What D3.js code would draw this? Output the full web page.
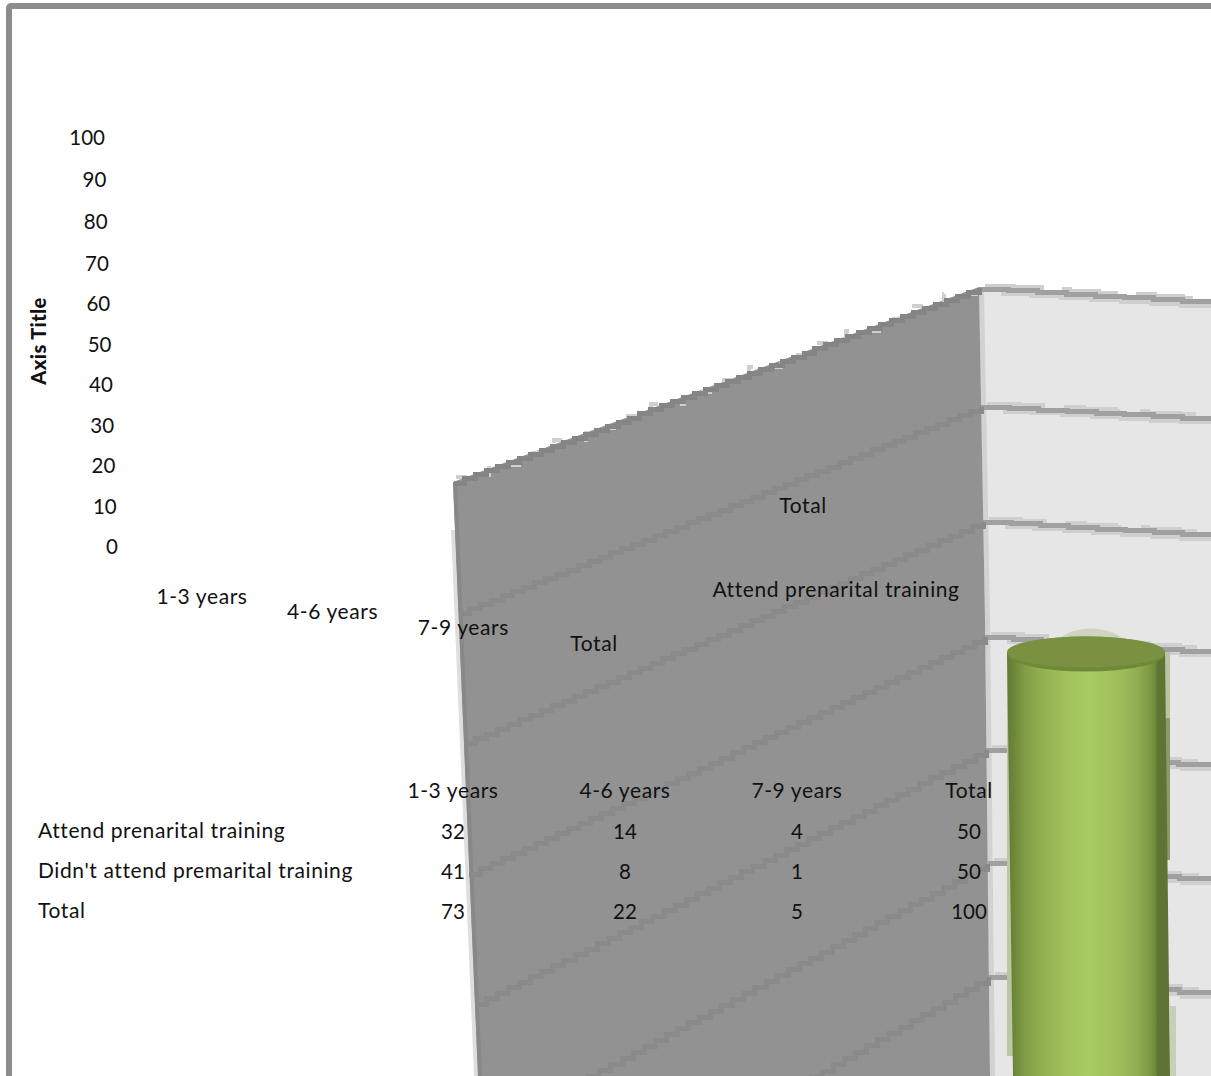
<!DOCTYPE html>
<html><head><meta charset="utf-8">
<style>html,body{margin:0;padding:0;background:#fff;overflow:hidden}svg{display:block}text{font-family:Lato,"Open Sans",sans-serif;fill:#111}</style>
<script src="https://cdn.jsdelivr.net/npm/d3@7"></script></head><body>
<script>
const axisTicks=[100,90,80,70,60,50,40,30,20,10,0];
const gridValues=[100,90,80,70,60,50,40];
const axisTitle="Axis Title";
const frontCats=["1-3 years","4-6 years","7-9 years","Total"];
const backCats=["Total","Attend prenarital training"];
const tableCols=["1-3 years","4-6 years","7-9 years","Total"];
const rowNames=["Attend prenarital training","Didn't attend premarital training","Total"];
const attend=[32,14,4,50];
const didnt=[41,8,1,50];
const totals=[73,22,5,100];
const barValue=73;

const W=1211,H=1076,FS=20.5;
const svg=d3.select("body").append("svg").attr("width",W).attr("height",H);
const defs=svg.append("defs");
const g=defs.append("linearGradient").attr("id","cyl");
[[0,"#64793a"],[.04,"#6c8538"],[.1,"#7f9a45"],[.2,"#8fae4f"],[.35,"#a0c15b"],[.5,"#a8cb62"],[.68,"#9fbf5b"],[.8,"#90ae50"],[.87,"#7f9a45"],[.91,"#6f8a3c"],[.925,"#5f7432"],[1,"#5f7432"]]
 .forEach(s=>g.append("stop").attr("offset",s[0]).attr("stop-color",s[1]));

// value scales of the projected walls
const wallBack=d3.scaleLinear().domain([100,90,70,40]).range([289,407,637,977]);
const wallFront=d3.scaleLinear().domain([100,90,50]).range([482,613,1135]);
const backEnd=d3.scaleLinear().domain([100,70,40]).range([303,653,995]);
const barY=d3.scaleLinear().domain([0,100]).range([1528,328]);
const frontX=d3.scaleLinear().domain([482,1076]).range([453,478]);
const backX=d3.scaleLinear().domain([287,620,1076]).range([979,985,990]);

// stair-stepped line between two projected points
function stair(a,b,step){
 const n=Math.max(1,Math.round(Math.abs(b[0]-a[0])/step));
 const px=d3.scaleLinear().domain([0,n]).range([a[0],b[0]]);
 const py=d3.scaleLinear().domain([0,n]).range([a[1],b[1]]);
 return d3.line().curve(d3.curveStepAfter)(d3.range(n+1).map(i=>[px(i),py(i)]));
}
const crisp=s=>s.attr("fill","none").attr("shape-rendering","crispEdges");

// back wall
svg.append("path").attr("fill","#e6e6e6")
 .attr("d",d3.line()([[backX(287),wallBack(100)],[W,backEnd(100)],[W,H],[backX(1076),H]]));
svg.append("path").attr("fill","none").attr("stroke","#d2d2d2").attr("stroke-width",5)
 .attr("d",d3.line()([[backX(287)+2.5,wallBack(100)],[backX(620)+2.5,620],[backX(1076)+2.5,H]]));
const backGrid=svg.append("g");
gridValues.forEach(v=>{
 const a=[backX(wallBack(v)),wallBack(v)],b=[W,backEnd(v)];
 crisp(backGrid.append("path")).attr("stroke","#cfcfcf").attr("stroke-width",5)
  .attr("stroke-dasharray","60 20").attr("d",stair([a[0]+6,a[1]-3],[b[0],b[1]-3],30));
 crisp(backGrid.append("path")).attr("stroke","#cfcfcf").attr("stroke-width",5)
  .attr("d",stair([a[0]+22,a[1]+4],[b[0],b[1]+4],30));
 crisp(backGrid.append("path")).attr("stroke","#a0a0a0").attr("stroke-width",5)
  .attr("d",stair(a,b,30));
});

// side wall
svg.append("path").attr("fill","none").attr("stroke","#dedede").attr("stroke-width",4)
 .attr("d",d3.line()([[frontX(530)-2,530],[frontX(1076)-2,H]]));
svg.append("path").attr("fill","#929292")
 .attr("d",d3.line()([[frontX(482),wallFront(100)],[backX(287),287],[backX(620),620],[backX(1076),H],[frontX(1076),H]]));
svg.append("path").attr("fill","none").attr("stroke","#888").attr("stroke-width",4)
 .attr("d",d3.line()([[frontX(482)+2,wallFront(100)],[frontX(1076)+2,H]]));
crisp(svg.append("path")).attr("stroke","#cfcfcf").attr("stroke-width",4)
 .attr("d",stair([frontX(482)+3,wallFront(100)-5],[backX(287)-3,287-5],33)).attr("stroke-dasharray","11 22");
crisp(svg.append("path")).attr("stroke","#858585").attr("stroke-width",5)
 .attr("d",stair([frontX(482)+1,wallFront(100)+1],[backX(287),287+1],11));
crisp(svg.append("g").selectAll("path").data(gridValues.slice(1)).join("path"))
 .attr("stroke","#8a8a8a").attr("stroke-width",5)
 .attr("d",v=>stair([frontX(Math.min(wallFront(v),H)),wallFront(v)],[backX(wallBack(v)),wallBack(v)],11));

// cylinder
const cyTop=barY(barValue),rx=79,ry=17.5;
const L0=1007,R0=1165,L1=1013,R1=1170;
svg.append("ellipse").attr("cx",(L0+R0)/2+5).attr("cy",cyTop-2).attr("rx",rx-42).attr("ry",ry+4).attr("fill","#cfd3bf");
svg.append("path").attr("fill","#bcc6a4").attr("d",d3.line()([[L0,cyTop],[L0,H-20],[L1,H-20],[L1,cyTop]]));
svg.append("path").attr("fill","#b9c5a0").attr("d",d3.line()([[R0,cyTop],[R0+5,cyTop],[R0+5,720],[R0,720]]));
svg.append("path").attr("fill","#8a9a68").attr("d",d3.line()([[R0,718],[R0+5,718],[R1,860],[R0,860]]));
svg.append("path").attr("fill","#c8cfb8").attr("d",d3.line()([[R1,1006],[R1+6,1006],[R1+6,H],[R1,H]]));
svg.append("path").attr("fill","url(#cyl)")
 .attr("d",d3.line()([[L0,cyTop],[R0,cyTop],[R1,H],[L1,H]]));
svg.append("ellipse").attr("cx",(L0+R0)/2).attr("cy",cyTop+2).attr("rx",rx).attr("ry",ry).attr("fill","#6f8939");
svg.append("ellipse").attr("cx",(L0+R0)/2).attr("cy",cyTop).attr("rx",rx).attr("ry",ry-2).attr("fill","#7a9142");

// frame
svg.append("rect").attr("x",9).attr("y",6).attr("width",W+40).attr("height",H+40).attr("rx",2)
 .attr("fill","none").attr("stroke","#8c8c8c").attr("stroke-width",6);

// axis labels
const tickY=d3.scaleLinear().domain([0,70,100]).range([546,263,137]);
const tickX=d3.scaleLinear().domain([0,100]).range([118,105]);
const isNum=t=>/^\d+$/.test(String(t));
const label=(x,y,t,a)=>svg.append("text").attr("x",x).attr("y",y).attr("text-anchor",a||"middle").attr("dominant-baseline","central")
 .attr("font-size",isNum(t)?FS:21).attr("letter-spacing",isNum(t)?0:.6).text(t);
axisTicks.forEach(v=>label(tickX(v),tickY(v),d3.format("d")(v),"end"));
svg.append("text").attr("transform","translate(38,341) rotate(-90)").attr("text-anchor","middle").attr("dominant-baseline","central")
 .attr("font-size",20).attr("font-weight",900).attr("letter-spacing",.4).text(axisTitle);
const frontPosX=d3.scalePoint().domain(frontCats).range([202,594]);
const frontPosY=d3.scalePoint().domain(frontCats).range([595,642]);
frontCats.forEach(c=>label(frontPosX(c),frontPosY(c),c));
const backPosX=d3.scalePoint().domain(backCats).range([803,836]);
const backPosY=d3.scalePoint().domain(backCats).range([504,588]);
backCats.forEach(c=>label(backPosX(c),backPosY(c),c));

// data table
const colX=d3.scalePoint().domain(d3.range(4)).range([453,969]);
const rowY=d3.scalePoint().domain(d3.range(4)).range([789,909]);
tableCols.forEach((c,i)=>label(colX(i),rowY(0),c));
[attend,didnt,totals].forEach((row,r)=>{
 label(38,rowY(r+1),rowNames[r],"start");
 row.forEach((v,i)=>label(colX(i),rowY(r+1)+2,v));
});
</script></body></html>
